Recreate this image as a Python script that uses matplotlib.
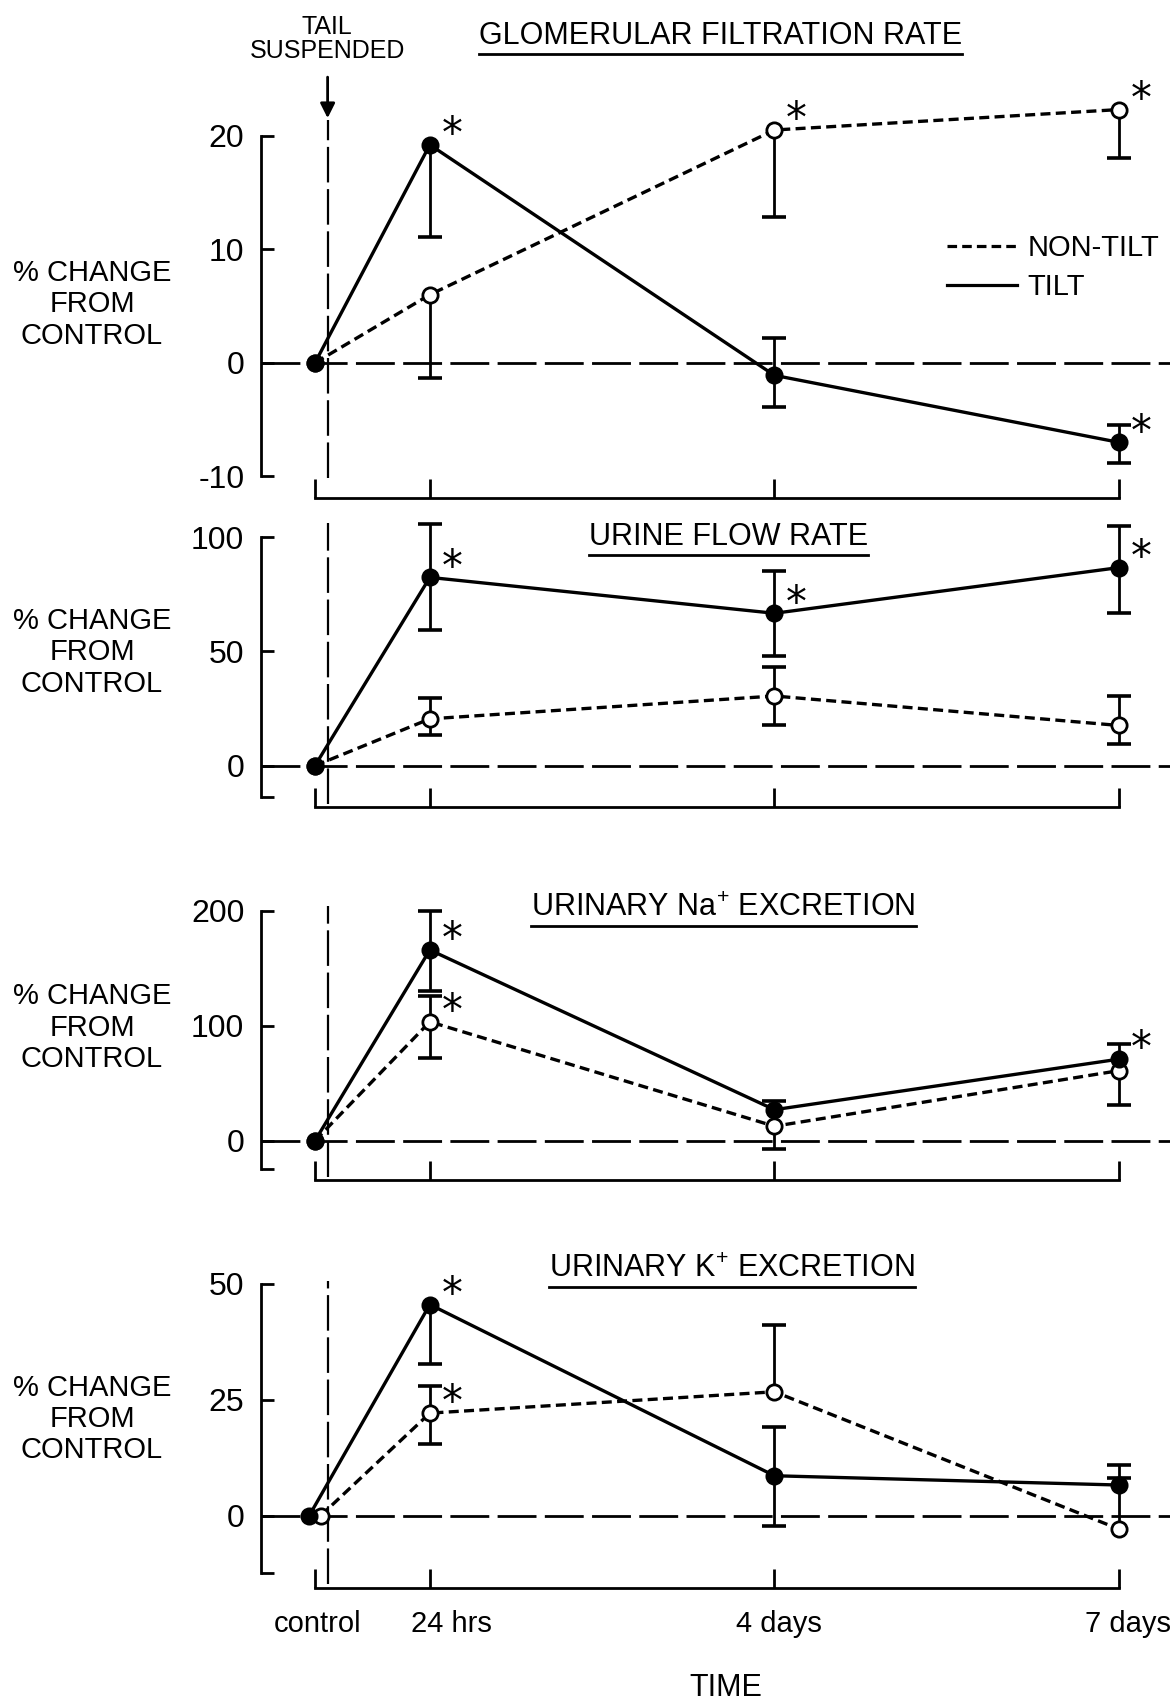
import numpy as np
import matplotlib
matplotlib.use("Agg")
import matplotlib.pyplot as plt
import matplotlib.transforms as mtransforms
from matplotlib.lines import Line2D

plt.rcParams['font.family'] = ['Liberation Sans', 'DejaVu Sans']
plt.rcParams['mathtext.fontset'] = 'custom'
plt.rcParams['mathtext.rm'] = 'Liberation Sans'

nan = np.nan

# time points (days after suspension), control = 0
days = [0, 1, 4, 7]
xlabels = ['control', '24 hrs', '4 days', '7 days']

# glomerular filtration rate
gfr_tilt = [0, 19.2, -1.1, -7.0]
gfr_tilt_lo = [nan, 11.1, -3.9, -8.8]
gfr_tilt_hi = [nan, nan, 2.2, -5.5]
gfr_tilt_star = [0, 1, 0, 1]
gfr_non = [0, 6.0, 20.5, 22.3]
gfr_non_lo = [nan, -1.3, 12.8, 18.0]
gfr_non_hi = [nan, nan, nan, nan]
gfr_non_star = [0, 0, 1, 1]

# urine flow rate
uf_tilt = [0, 82.4, 66.7, 86.7]
uf_tilt_lo = [nan, 59.5, 48.0, 67.0]
uf_tilt_hi = [nan, 105.7, 85.0, 105.0]
uf_tilt_star = [0, 1, 1, 1]
uf_non = [0, 20.5, 30.5, 17.6]
uf_non_lo = [nan, 13.3, 18.0, 9.5]
uf_non_hi = [nan, 29.5, 43.0, 30.5]
uf_non_star = [0, 0, 0, 0]

# urinary Na+ excretion
na_tilt = [0, 166, 27, 71]
na_tilt_lo = [nan, 130, nan, nan]
na_tilt_hi = [nan, 200, 34.6, 84]
na_tilt_star = [0, 1, 0, 1]
na_non = [0, 103.5, 12.6, 61]
na_non_lo = [nan, 71.6, -7, 31]
na_non_hi = [nan, 126, nan, nan]
na_non_star = [0, 1, 0, 0]

# urinary K+ excretion
k_tilt = [0, 45.5, 8.6, 6.6]
k_tilt_lo = [nan, 32.7, -2.3, nan]
k_tilt_hi = [nan, nan, 19.2, 11.0]
k_tilt_star = [0, 1, 0, 0]
k_non = [0, 22.1, 26.7, -2.9]
k_non_lo = [nan, 15.5, nan, nan]
k_non_hi = [nan, 28.0, 41.2, 8.2]
k_non_star = [0, 1, 0, 0]

# layout, in pixels of the reference as read
W, H = 1085, 1568
FS = 21

fig = plt.figure(figsize=(11.75, 17.05), dpi=100)

panels = [
    dict(title='GLOMERULAR FILTRATION RATE', tx=665, ty=33, top=83, bot=458, ylim=(-11.9, 24),
         yticks=[-10, 0, 10, 20], ylab=['-10', '0', '10', '20'], ylab_y=280,
         tail=(0.048, 0.928),
         tilt=(gfr_tilt, gfr_tilt_lo, gfr_tilt_hi, gfr_tilt_star),
         non=(gfr_non, gfr_non_lo, gfr_non_hi, gfr_non_star)),
    dict(title='URINE FLOW RATE', tx=673, ty=494, top=473, bot=742, ylim=(-18, 110),
         yticks=[-13.8, 0, 50, 100], ylab=['', '0', '50', '100'], ylab_y=600,
         tail=(0.01, 0.97),
         tilt=(uf_tilt, uf_tilt_lo, uf_tilt_hi, uf_tilt_star),
         non=(uf_non, uf_non_lo, uf_non_hi, uf_non_star)),
    dict(title='URINARY Na$^{+}$ EXCRETION', tx=668, ty=835, top=825, bot=1085, ylim=(-34, 212),
         yticks=[-25, 0, 100, 200], ylab=['', '0', '100', '200'], ylab_y=945,
         tail=(0.01, 0.97),
         tilt=(na_tilt, na_tilt_lo, na_tilt_hi, na_tilt_star),
         non=(na_non, na_non_lo, na_non_hi, na_non_star)),
    dict(title='URINARY K$^{+}$ EXCRETION', tx=676, ty=1167, top=1172, bot=1460, ylim=(-15.5, 52),
         yticks=[-12.4, 0, 25, 50], ylab=['', '0', '25', '50'], ylab_y=1305,
         tail=(0.01, 0.98),
         tilt=(k_tilt, k_tilt_lo, k_tilt_hi, k_tilt_star),
         non=(k_non, k_non_lo, k_non_hi, k_non_star)),
]

titles = []
axes = []
for i, p in enumerate(panels):
    ax = fig.add_axes([241 / W, 1 - p['bot'] / H, 839 / W, (p['bot'] - p['top']) / H])
    axes.append(ax)
    ax.set_xlim(-0.47, 7.44)
    ax.set_ylim(*p['ylim'])
    ax.patch.set_alpha(0)

    for s in ['top', 'right']:
        ax.spines[s].set_visible(False)
    ax.spines['left'].set_bounds(p['yticks'][0], p['yticks'][-1])
    ax.spines['bottom'].set_bounds(0, 7)
    ax.spines['left'].set_linewidth(2)
    ax.spines['bottom'].set_linewidth(2)

    ax.set_yticks(p['yticks'])
    ax.set_yticklabels(p['ylab'])
    ax.set_xticks(days)
    ax.tick_params(axis='y', direction='in', length=9, width=2, pad=12, labelsize=FS + 2)
    ax.tick_params(axis='x', direction='in', length=14, width=2, pad=16, labelsize=FS)
    if i < 3:
        ax.set_xticklabels([])
    else:
        ax.set_xticklabels(xlabels)
        # the printed labels sit a little right of their ticks
        for lab, dx in zip(ax.get_xticklabels(), [2, 20, 4, 8]):
            lab.set_transform(lab.get_transform() +
                              mtransforms.ScaledTranslation(dx / 92.0, 0, fig.dpi_scale_trans))

    # zero reference line and tail-suspension marker
    ax.axhline(0, color='black', lw=2, dashes=(14, 3), zorder=1)
    ax.axvline(0.11, ymin=p['tail'][0], ymax=p['tail'][1], color='black', lw=1.6,
               dashes=(16, 3), zorder=1)

    shift = 0.05 if i == 3 else 0.0
    for key, style in [('non', dict(ls=(0, (3, 1.6)), mfc='white')),
                       ('tilt', dict(ls='-', mfc='black'))]:
        vals, lo, hi, star = p[key]
        xs = np.array(days, dtype=float)
        xs[0] += shift if key == 'non' else -shift
        ax.plot(xs, vals, color='black', lw=2.4, linestyle=style['ls'], zorder=3)
        for x, v, a, b in zip(xs, vals, lo, hi):
            for bound in (a, b):
                if not np.isnan(bound):
                    ax.vlines(x, v, bound, color='black', lw=2, zorder=2)
                    ax.plot([x], [bound], marker='_', ms=17, mew=2.6, color='black', zorder=2)
        ax.plot(xs, vals, ls='none', marker='o', ms=11, mfc=style['mfc'], mec='black',
                mew=2, zorder=4)
        for x, v, s in zip(xs, vals, star):
            if s:
                ax.annotate('*', (x, v), xytext=(16, 7), textcoords='offset points',
                            fontsize=30, ha='center', va='center', family='DejaVu Sans')

    t = fig.text(p['tx'] / W, 1 - p['ty'] / H, p['title'],
                 fontsize=FS + 1, ha='center', va='center')
    titles.append(t)
    fig.text(85 / W, 1 - p['ylab_y'] / H, '% CHANGE\nFROM\nCONTROL', fontsize=FS,
             ha='center', va='center', linespacing=1.15)

# legend in the first panel
handles = [Line2D([], [], color='black', lw=2.3, linestyle=(0, (3, 1.6))),
           Line2D([], [], color='black', lw=2.3)]
axes[0].legend(handles, ['NON-TILT', 'TILT'], loc='center left', frameon=False,
               bbox_to_anchor=(0.755, 0.565), fontsize=FS, handlelength=2.4,
               handletextpad=0.35, labelspacing=0.4, borderpad=0, borderaxespad=0)

# tail suspended annotation
axes[0].annotate('', xy=(0.11, 21.3), xytext=(0.11, 25.4), annotation_clip=False,
                 arrowprops=dict(arrowstyle='-|>', color='black', lw=2, mutation_scale=22))
fig.text(302 / W, 1 - 36 / H, 'TAIL\nSUSPENDED', fontsize=18, ha='center', va='center',
         linespacing=1.0)

fig.text(670 / W, 1 - 1552 / H, 'TIME', fontsize=FS + 1, ha='center', va='center')

# underline the panel titles
fig.canvas.draw()
fw, fh = fig.canvas.get_width_height()
for t in titles:
    bb = t.get_window_extent()
    y = (bb.y0 - 3) / fh
    fig.add_artist(Line2D([bb.x0 / fw, bb.x1 / fw], [y, y], color='black', lw=2,
                          transform=fig.transFigure))

fig.savefig('out.png', dpi=100, facecolor='white')
